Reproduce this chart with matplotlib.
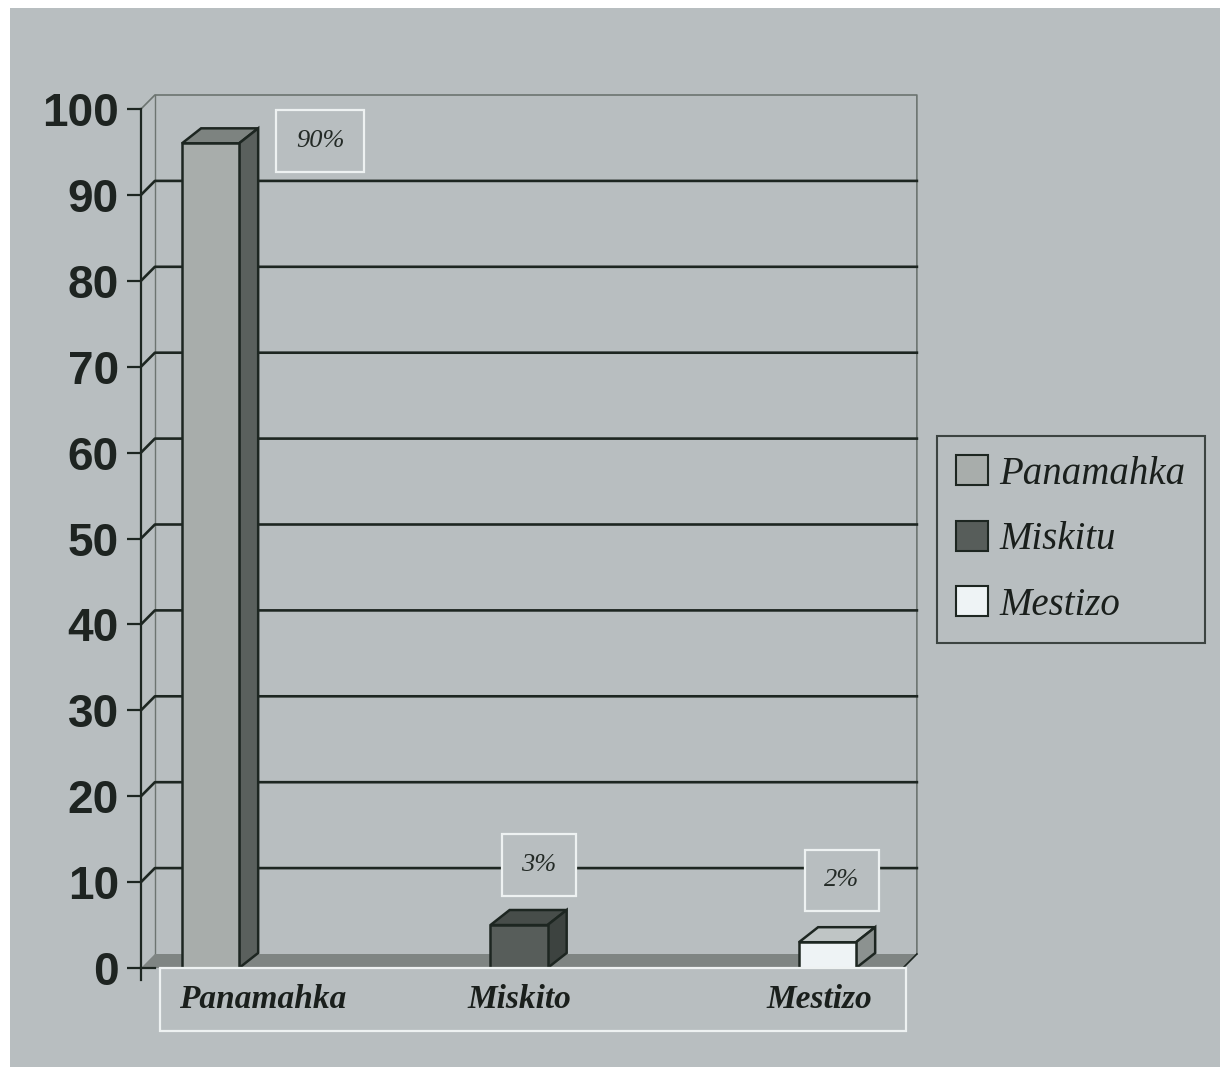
import matplotlib.pyplot as plt
from matplotlib.patches import Polygon, Rectangle, Patch

# Data
categories = ['Panamahka', 'Miskito', 'Mestizo']
values = [96, 5, 3]
value_labels = ['90%', '3%', '2%']
legend_labels = ['Panamahka', 'Miskitu', 'Mestizo']
yticks = [0, 10, 20, 30, 40, 50, 60, 70, 80, 90, 100]

# Colours
bg = '#b8bec0'
ink = '#1d2621'
wall_edge = '#6c7470'
floor_col = '#7f8583'
box_edge = '#eef2f2'
front_colors = ['#a8adab', '#575d5a', '#eef3f5']
top_colors = ['#7d8380', '#474d4a', '#bfc5c5']
side_colors = ['#5a605d', '#3d4340', '#8c9290']

# label placement (relative to category / absolute height)
label_dx = [0.355, 0.065, 0.047]
label_y = [96.3, 12.0, 10.2]
cat_label_dx = [0.17, 0.0, -0.025]

fig = plt.figure(figsize=(12.26, 10.67), dpi=100)
fig.patch.set_facecolor('white')
fig.patches.append(Rectangle((10 / 1226, 0), 1210 / 1226, 1059 / 1067,
                             transform=fig.transFigure, facecolor=bg,
                             edgecolor='none', zorder=-10))

ax = fig.add_axes([141 / 1226, 99 / 1067, 762 / 1226, 859 / 1067])
ax.patch.set_visible(False)
x0, x1 = -0.2253, 2.2447
ax.set_xlim(x0, x1)
ax.set_ylim(0, 100)

# depth offsets of the walls and of the bars (data units)
wdx, wdy = 0.045, 1.63
bdx, bdy = 0.062, 1.75
bw = 0.185
xs = list(range(len(categories)))

# walls: outline
ax.plot([x0, x0 + wdx, x1 + wdx, x1 + wdx], [100, 100 + wdy, 100 + wdy, wdy],
        color=wall_edge, lw=1.2, zorder=1, clip_on=False)
ax.plot([x0 + wdx, x0 + wdx], [wdy, 100 + wdy], color=wall_edge, lw=1.0,
        zorder=1, clip_on=False)

# gridlines on side wall and back wall
for v in yticks[1:-1]:
    ax.plot([x0, x0 + wdx, x1 + wdx], [v, v + wdy, v + wdy], color=ink,
            lw=1.9, zorder=2, clip_on=False)

# floor
ax.add_patch(Polygon([(x0, 0), (x1, 0), (x1 + wdx, wdy), (x0 + wdx, wdy)],
                     closed=True, facecolor=floor_col, edgecolor='none',
                     zorder=2, clip_on=False))
ax.plot([x1, x1 + wdx], [0, wdy], color=ink, lw=1.2, zorder=2, clip_on=False)
ax.plot([x0, x0 + wdx], [0, 0], color=ink, lw=1.6, zorder=2, clip_on=False)
ax.plot([x0, x0], [0, -1.4], color=ink, lw=1.6, zorder=2, clip_on=False)

# bars: front faces
ax.bar(xs, values, width=bw, color=front_colors, edgecolor=ink,
       linewidth=1.8, zorder=4)
# bars: tops and sides
for x, v, tc, sc in zip(xs, values, top_colors, side_colors):
    l, r = x - bw / 2, x + bw / 2
    ax.add_patch(Polygon([(l, v), (r, v), (r + bdx, v + bdy), (l + bdx, v + bdy)],
                         closed=True, facecolor=tc, edgecolor=ink, lw=1.8,
                         zorder=3, clip_on=False))
    ax.add_patch(Polygon([(r, 0), (r + bdx, bdy), (r + bdx, v + bdy), (r, v)],
                         closed=True, facecolor=sc, edgecolor=ink, lw=1.8,
                         zorder=3, clip_on=False))

# value labels
for x, dx, y, txt in zip(xs, label_dx, label_y, value_labels):
    ax.text(x + dx, y, txt, ha='center', va='center', fontsize=19,
            style='italic', family='Liberation Serif', color='#232a26',
            zorder=6,
            bbox=dict(boxstyle='square,pad=0.75', facecolor=bg,
                      edgecolor=box_edge, linewidth=1.6))

# category label box
ax.add_patch(Rectangle((-0.164, -7.33), 2.418, 7.33, facecolor=bg,
                       edgecolor=box_edge, lw=1.6, zorder=5, clip_on=False))
for x, dx, name in zip(xs, cat_label_dx, categories):
    ax.text(x + dx, -3.7, name, ha='center', va='center', fontsize=24,
            style='italic', fontweight='bold', family='Liberation Serif',
            color='#1a1f1c', zorder=6)

# axes styling
for s in ['top', 'right', 'bottom']:
    ax.spines[s].set_visible(False)
ax.spines['left'].set_color(ink)
ax.spines['left'].set_linewidth(1.6)
ax.set_xticks([])
ax.set_yticks(yticks)
ax.set_yticklabels([str(t) for t in yticks], fontsize=33, fontweight='bold',
                   family='Liberation Sans', color='#1e2421')
ax.tick_params(axis='y', length=10, width=1.6, color=ink, pad=6)

# legend
handles = [Patch(facecolor=c, edgecolor=ink, linewidth=1.5) for c in front_colors]
leg = fig.legend(handles, legend_labels, loc='upper left',
                 bbox_to_anchor=(937 / 1226, 1 - 436 / 1067),
                 prop={'family': 'Liberation Serif', 'style': 'italic',
                       'size': 28},
                 frameon=True, fancybox=False, borderaxespad=0,
                 handlelength=0.8, handleheight=0.8, handletextpad=0.3,
                 labelspacing=0.72, borderpad=0.5)
leg.get_frame().set_facecolor(bg)
leg.get_frame().set_edgecolor(ink)
leg.get_frame().set_linewidth(1.5)
for t in leg.get_texts():
    t.set_color('#1a1f1c')

plt.savefig('out.png', dpi=100)
